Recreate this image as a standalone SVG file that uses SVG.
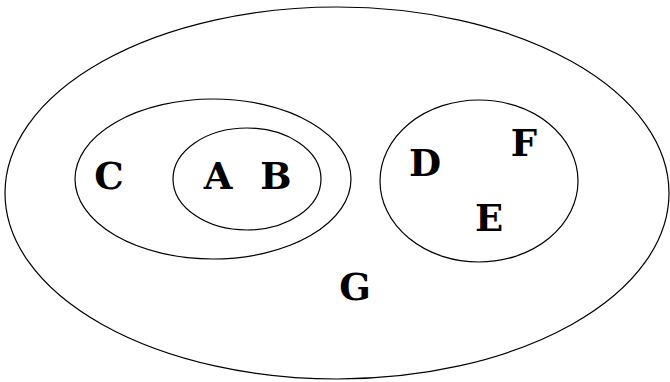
<svg xmlns="http://www.w3.org/2000/svg" width="670" height="382" viewBox="0 0 670 382">
<style>
.set{fill:none;stroke:#000;stroke-width:1.2}
.lbl{font-family:"DejaVu Serif",serif;font-weight:bold;font-size:37px;fill:#000;text-anchor:middle}
</style>
<rect width="670" height="382" fill="#fff"/>
<g id="G"><ellipse class="set" cx="337" cy="193" rx="332" ry="186"/><text class="lbl" x="355" y="300">G</text></g>
<g id="C"><ellipse class="set" cx="213" cy="179" rx="138" ry="80"/><text class="lbl" x="109" y="189">C</text></g>
<g id="AB"><ellipse class="set" cx="247" cy="179" rx="74" ry="51"/><text class="lbl" x="218" y="189">A</text><text class="lbl" x="276" y="189">B</text></g>
<g id="DEF"><ellipse class="set" cx="479" cy="181" rx="99" ry="81"/><text class="lbl" x="425" y="176">D</text><text class="lbl" x="524" y="156">F</text><text class="lbl" x="489" y="231">E</text></g>
<g id="connectors"/>
</svg>
